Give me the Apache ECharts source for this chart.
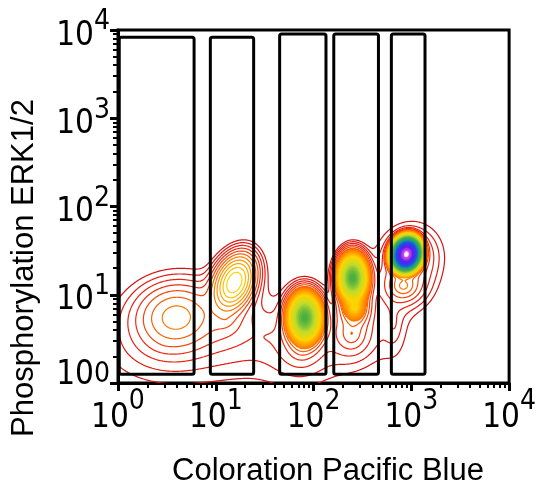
<!DOCTYPE html>
<html>
<head>
<meta charset="utf-8">
<script src="https://cdn.jsdelivr.net/npm/echarts@6/dist/echarts.min.js"></script>
<style>
  html, body { margin: 0; padding: 0; background: #fff; }
  #chart { width: 539px; height: 488px; }
</style>
</head>
<body>
<div id="chart"></div>
<script>
// ---- Axes (log10, both from 10^0 to 10^4) ----
const majorTicks = [1, 10, 100, 1000, 10000];
const tickExponents = ['0', '1', '2', '3', '4'];
const minorSteps = [2, 3, 4, 5, 6, 7, 8, 9];

// ---- Gates drawn on the plot (data units) ----
const gateLeft = [1.03, 8.8, 45, 161, 625];
const gateRight = [6.0, 24.4, 134, 461, 1380];
const gateTop = [8300, 8300, 9000, 9000, 9000];
const gateBottom = 1.26;

// ---- Cell populations ----
// centre in data units, half-widths of the outermost contour in decades,
// tilt in degrees, peak contour level, profile exponent, shaded core.
const popNames   = ['A', 'A low', 'B', 'B low', 'B-C', 'C', 'C low', 'D', 'D mid', 'D low',
                    'E core', 'E base', 'E low', 'E tail'];
const popCenterX = [3.9, 2.8, 15.5, 12.6, 35.5, 81.3, 74.1, 251, 263, 245, 891, 977, 832, 661];
const popCenterY = [5.6, 2.6, 13.8, 5.25, 3.31, 5.5, 2.45, 15.5, 7.24, 3.55, 28.8, 26.3, 12.6, 4.79];
const popHalfX   = [0.52, 0.35, 0.29, 0.22, 0.20, 0.27, 0.24, 0.24, 0.20, 0.24, 0.23, 0.33, 0.25, 0.07];
const popHalfY   = [0.48, 0.24, 0.48, 0.25, 0.10, 0.44, 0.28, 0.42, 0.28, 0.30, 0.30, 0.40, 0.25, 0.20];
const popTilt    = [12, 0, -18, 0, 0, 0, 0, 0, 0, 0, -10, -10, 0, 0];
const popPeak    = [6.2, 1, 10.8, 3, 0.5, 18, 3, 18, 10, 4.5, 35, 5.5, 6, 1.5];
const popShape   = [1.5, 1, 1.4, 1, 1, 1.2, 1, 1.2, 1, 1, 1.3, 1, 1, 1];
const popShaded  = [0, 0, 0, 0, 0, 1, 0, 1, 1, 0, 1, 0, 0, 0];

// ---- Contour level colours ----
const levelStops  = [0, 3, 6, 10, 14, 18, 22, 26, 31, 34, 35];
const levelColors = ['#d41515', '#f02a10', '#ff7a00', '#ffd400', '#c0dc2a', '#4caf42',
                     '#14a08c', '#2448f0', '#5a20e8', '#d040f0', '#ffffff'];

const LEVEL_RATIO = 1.5;      // density ratio between neighbouring contours
const SHADE_FROM = 5;         // shaded cores start at this level
const FONT = '"Liberation Sans", Arial, sans-serif';

// ---- pick a condensed face for the tick labels when one is installed ----
function fontAvailable(name) {
  const ctx = document.createElement('canvas').getContext('2d');
  const probe = 'mmmmWWW10ilI';
  ctx.font = '40px monospace';
  const w0 = ctx.measureText(probe).width;
  ctx.font = '40px "' + name + '", monospace';
  return ctx.measureText(probe).width !== w0;
}
let tickFont = FONT, tickSize = 33, supSize = 28;
if (fontAvailable('Liberation Sans Narrow')) {
  tickFont = '"Liberation Sans Narrow", ' + FONT; tickSize = 36; supSize = 31;
} else if (fontAvailable('DejaVu Sans Condensed')) {
  tickFont = '"DejaVu Sans Condensed", ' + FONT; tickSize = 33; supSize = 28;
}

// ---------------------------------------------------------------------------
const LN_R = Math.log(LEVEL_RATIO);
const SOFT = 0.15, NORM = Math.sqrt(1 + SOFT * SOFT) - SOFT;
const pops = popCenterX.map((cx, i) => ({
  lx: Math.log10(cx), ly: Math.log10(popCenterY[i]),
  ax: popHalfX[i], ay: popHalfY[i],
  c: Math.cos(popTilt[i] * Math.PI / 180), s: Math.sin(popTilt[i] * Math.PI / 180),
  h: popPeak[i], g: popShape[i], shaded: popShaded[i] === 1
}));

function popLevel(p, lx, ly) {
  const dx = lx - p.lx, dy = ly - p.ly;
  const u = (dx * p.c + dy * p.s) / p.ax;
  const v = (-dx * p.s + dy * p.c) / p.ay;
  const rho = (Math.sqrt(u * u + v * v + SOFT * SOFT) - SOFT) / NORM;
  return p.h * (1 - Math.pow(rho, p.g));
}

function hexToRgb(h) {
  return [parseInt(h.slice(1, 3), 16), parseInt(h.slice(3, 5), 16), parseInt(h.slice(5, 7), 16)];
}
const stopRgb = levelColors.map(hexToRgb);
function levelColor(v) {
  if (v <= levelStops[0]) return levelColors[0];
  for (let k = 1; k < levelStops.length; k++) {
    if (v <= levelStops[k]) {
      const t = (v - levelStops[k - 1]) / (levelStops[k] - levelStops[k - 1]);
      const a = stopRgb[k - 1], b = stopRgb[k];
      return 'rgb(' + a.map((c, n) => Math.round(c + (b[n] - c) * t)).join(',') + ')';
    }
  }
  return levelColors[levelColors.length - 1];
}

// density grid in log space
const LX0 = -0.3, LX1 = 3.7, LY0 = -0.3, LY1 = 2.4, STEP = 0.01;
const nx = Math.round((LX1 - LX0) / STEP) + 1;
const ny = Math.round((LY1 - LY0) / STEP) + 1;
const total = new Float32Array(nx * ny);
const shaded = new Float32Array(nx * ny);
let maxLevel = 0;
for (let j = 0; j < ny; j++) {
  const ly = LY0 + j * STEP;
  for (let i = 0; i < nx; i++) {
    const lx = LX0 + i * STEP;
    let t = 0, f = 0;
    for (const p of pops) {
      const d = Math.exp(LN_R * popLevel(p, lx, ly));
      t += d;
      if (p.shaded) f += d;
    }
    const k = j * nx + i;
    total[k] = Math.log(t) / LN_R;
    shaded[k] = f > 0 ? Math.log(f) / LN_R : -1e9;
    if (total[k] > maxLevel) maxLevel = total[k];
  }
}

const CASES = [[], [3, 0], [0, 1], [3, 1], [1, 2], [3, 0, 1, 2], [0, 2], [3, 2],
               [2, 3], [0, 2], [0, 1, 2, 3], [1, 2], [1, 3], [0, 1], [3, 0], []];

let contourCache = null;
function buildContours(api) {
  const xp = new Float64Array(nx), yp = new Float64Array(ny);
  for (let i = 0; i < nx; i++) xp[i] = api.coord([Math.pow(10, LX0 + i * STEP), 1])[0];
  for (let j = 0; j < ny; j++) yp[j] = api.coord([1, Math.pow(10, LY0 + j * STEP)])[1];
  const children = [];

  // shaded cores, one path per colour band
  const bands = new Map();
  const hw = Math.abs(xp[1] - xp[0]) / 2 + 0.35, hh = Math.abs(yp[1] - yp[0]) / 2 + 0.35;
  for (let j = 0; j < ny; j++) {
    let i = 0;
    while (i < nx) {
      const k = j * nx + i;
      if (shaded[k] >= SHADE_FROM) {
        const band = Math.round(total[k] * 2) / 2;
        let i2 = i;
        while (i2 + 1 < nx && shaded[k + i2 + 1 - i] >= SHADE_FROM &&
               Math.round(total[k + i2 + 1 - i] * 2) / 2 === band) i2++;
        const x0 = xp[i] - hw, x1 = xp[i2] + hw, y0 = yp[j] - hh, y1 = yp[j] + hh;
        const d = 'M' + x0.toFixed(2) + ' ' + y0.toFixed(2) + 'H' + x1.toFixed(2) +
                  'V' + y1.toFixed(2) + 'H' + x0.toFixed(2) + 'Z';
        bands.set(band, (bands.get(band) || '') + d);
        i = i2 + 1;
      } else {
        i++;
      }
    }
  }
  [...bands.keys()].sort((a, b) => a - b).forEach(band => {
    children.push({ type: 'path', shape: { pathData: bands.get(band) },
                    style: { fill: levelColor(band), stroke: null } });
  });

  // contour lines
  for (let L = 0; L <= Math.floor(maxLevel); L++) {
    const parts = [];
    for (let j = 0; j < ny - 1; j++) {
      const r0 = j * nx, r1 = r0 + nx;
      for (let i = 0; i < nx - 1; i++) {
        const a = total[r0 + i], b = total[r0 + i + 1], c = total[r1 + i + 1], e = total[r1 + i];
        const idx = (a >= L ? 1 : 0) | (b >= L ? 2 : 0) | (c >= L ? 4 : 0) | (e >= L ? 8 : 0);
        if (idx === 0 || idx === 15) continue;
        const segs = CASES[idx];
        const pt = (edge) => {
          let x, y, t;
          if (edge === 0) { t = (L - a) / (b - a); x = xp[i] + t * (xp[i + 1] - xp[i]); y = yp[j]; }
          else if (edge === 1) { t = (L - b) / (c - b); x = xp[i + 1]; y = yp[j] + t * (yp[j + 1] - yp[j]); }
          else if (edge === 2) { t = (L - e) / (c - e); x = xp[i] + t * (xp[i + 1] - xp[i]); y = yp[j + 1]; }
          else { t = (L - a) / (e - a); x = xp[i]; y = yp[j] + t * (yp[j + 1] - yp[j]); }
          return x.toFixed(2) + ' ' + y.toFixed(2);
        };
        for (let s = 0; s < segs.length; s += 2) {
          parts.push('M' + pt(segs[s]) + 'L' + pt(segs[s + 1]));
        }
      }
    }
    if (parts.length) {
      children.push({ type: 'path', shape: { pathData: parts.join('') },
                      style: { fill: null, stroke: levelColor(L), lineWidth: 1.2, lineCap: 'round' } });
    }
  }
  return children;
}

// ---- tick helpers ----
const minorTicks = [];
for (let e = 0; e < majorTicks.length - 1; e++) {
  for (const m of minorSteps) minorTicks.push(m * majorTicks[e]);
}
const expOf = v => tickExponents[majorTicks.indexOf(v)] || '';

const xRich = {
  b: { fontFamily: tickFont, fontSize: tickSize, lineHeight: 60, color: '#000' },
  s: { fontFamily: tickFont, fontSize: supSize, lineHeight: 28, verticalAlign: 'top', color: '#000' }
};
const yRich = {
  b: { fontFamily: tickFont, fontSize: tickSize, lineHeight: 56, color: '#000' },
  s: { fontFamily: tickFont, fontSize: supSize, lineHeight: 28, verticalAlign: 'top', color: '#000' },
  b0: { fontFamily: tickFont, fontSize: tickSize, lineHeight: 56, padding: [0, 0, 28, 0], color: '#000' },
  s0: { fontFamily: tickFont, fontSize: supSize, lineHeight: 28, verticalAlign: 'top', color: '#000' }
};

function logAxis(extra) {
  return Object.assign({
    type: 'log', logBase: 10, min: 1, max: 10000,
    splitLine: { show: false }, minorTick: { show: false }, minorSplitLine: { show: false }
  }, extra);
}

const chart = echarts.init(document.getElementById('chart'), null, { renderer: 'canvas' });
chart.setOption({
  animation: false,
  backgroundColor: '#fff',
  textStyle: { fontFamily: FONT },
  grid: { left: 118, top: 30, right: 26, bottom: 105, show: true,
          borderColor: '#000', borderWidth: 3, backgroundColor: 'transparent' },
  xAxis: [
    logAxis({
      position: 'bottom',
      axisLine: { show: true, lineStyle: { color: '#000', width: 3 } },
      axisTick: { show: true, customValues: majorTicks, length: 8, lineStyle: { color: '#000', width: 3 } },
      axisLabel: { show: true, customValues: majorTicks, margin: 5, rich: xRich,
                   formatter: v => '{b|10}{s|' + expOf(v) + '}' }
    }),
    logAxis({
      position: 'bottom',
      axisLine: { show: false },
      axisTick: { show: true, customValues: minorTicks, length: 5, lineStyle: { color: '#000', width: 2 } },
      axisLabel: { show: false }
    })
  ],
  yAxis: [
    logAxis({
      position: 'left',
      axisLine: { show: true, lineStyle: { color: '#000', width: 3 } },
      axisTick: { show: true, customValues: majorTicks, length: 8, lineStyle: { color: '#000', width: 3 } },
      axisLabel: { show: true, customValues: majorTicks, margin: 8, rich: yRich, padding: [12, 0, 0, 0],
                   formatter: v => v === 1 ? '{b0|10}{s0|0}' : '{b|10}{s|' + expOf(v) + '}' }
    }),
    logAxis({
      position: 'left',
      axisLine: { show: false },
      axisTick: { show: true, customValues: minorTicks, length: 5, lineStyle: { color: '#000', width: 2 } },
      axisLabel: { show: false }
    })
  ],
  series: [
    {
      type: 'custom',
      name: 'contours',
      xAxisIndex: 0, yAxisIndex: 0,
      clip: true, silent: true, z: 2,
      data: [[1, 1]],
      renderItem: (params, api) => {
        if (!contourCache) contourCache = buildContours(api);
        return { type: 'group', children: contourCache };
      }
    },
    {
      type: 'custom',
      name: 'gates',
      xAxisIndex: 0, yAxisIndex: 0,
      clip: false, silent: true, z: 5,
      encode: { x: [0, 1], y: 2 },
      data: gateLeft.map((x0, i) => [x0, gateRight[i], gateTop[i]]),
      renderItem: (params, api) => {
        const p0 = api.coord([api.value(0), api.value(2)]);
        const p1 = api.coord([api.value(1), gateBottom]);
        return { type: 'rect',
                 shape: { x: p0[0], y: p0[1], width: p1[0] - p0[0], height: p1[1] - p0[1], r: 2 },
                 style: { fill: null, stroke: '#000', lineWidth: 3 } };
      }
    }
  ],
  graphic: [
    { type: 'text', x: 328, y: 471, silent: true,
      style: { text: 'Coloration Pacific Blue', font: '31px ' + FONT, fill: '#000',
               align: 'center', verticalAlign: 'middle', textAlign: 'center', textVerticalAlign: 'middle' } },
    { type: 'text', x: 24, y: 268, rotation: Math.PI / 2, silent: true,
      style: { text: 'Phosphorylation ERK1/2', font: '31px ' + FONT, fill: '#000',
               align: 'center', verticalAlign: 'middle', textAlign: 'center', textVerticalAlign: 'middle' } }
  ]
});
</script>
</body>
</html>
